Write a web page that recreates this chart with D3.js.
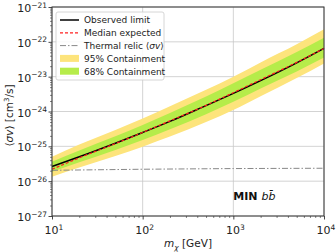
<!DOCTYPE html>
<html>
<head>
<meta charset="utf-8">
<script src="https://cdn.jsdelivr.net/npm/d3@7"></script>
<style>
  body { margin: 0; background: #fff; }
  text { font-family: "DejaVu Sans", sans-serif; }
</style>
</head>
<body>
<svg width="336" height="252"></svg>
<script>
// data
const mass = [10, 20, 50, 100, 200, 500, 1000, 2000, 5000, 10000];
const observed = [2.63e-26, 5.0e-26, 1.23e-25, 2.5e-25, 5.2e-25, 1.48e-24, 3.3e-24, 7.7e-24, 2.5e-23, 6.5e-23];
const median = [2.19e-26, 4.68e-26, 1.2e-25, 2.51e-25, 5.37e-25, 1.5e-24, 3.47e-24, 8.2e-24, 2.57e-23, 6.46e-23];
const upper95 = [5.0e-26, 1.12e-25, 2.95e-25, 6.3e-25, 1.41e-24, 4.2e-24, 1.0e-23, 2.57e-23, 8.5e-23, 2.29e-22];
const lower95 = [1.35e-26, 2.45e-26, 5.25e-26, 9.8e-26, 1.9e-25, 5.0e-25, 1.1e-24, 2.75e-24, 9.1e-24, 2.4e-23];
const upper68 = [3.6e-26, 7.6e-26, 1.95e-25, 4.1e-25, 9.1e-25, 2.7e-24, 6.5e-24, 1.58e-23, 5.1e-23, 1.32e-22];
const lower68 = [1.86e-26, 3.47e-26, 7.8e-26, 1.51e-25, 3.1e-25, 8.4e-25, 1.9e-24, 4.6e-24, 1.41e-23, 3.55e-23];
const relicMass = [10, 100, 1000, 10000];
const relic = [2.05e-26, 2.2e-26, 2.3e-26, 2.35e-26];
const xTicks = [1, 2, 3, 4];
const yTicks = [-27, -26, -25, -24, -23, -22, -21];

const margin = {top: 7, right: 12, bottom: 36, left: 52};
const width = 336 - margin.left - margin.right;
const height = 252 - margin.top - margin.bottom;

const svg = d3.select("svg");
const g = svg.append("g").attr("transform", `translate(${margin.left},${margin.top})`);

const x = d3.scaleLog().domain([10, 1e4]).range([0, width]);
const y = d3.scaleLog().domain([1e-27, 1e-21]).range([height, 0]);

// grid
g.selectAll(".gx").data(xTicks).enter().append("line")
  .attr("x1", d => x(10 ** d)).attr("x2", d => x(10 ** d))
  .attr("y1", 0).attr("y2", height)
  .attr("stroke", "#c8c8c8").attr("stroke-width", 0.8);
g.selectAll(".gy").data(yTicks).enter().append("line")
  .attr("y1", d => y(10 ** d)).attr("y2", d => y(10 ** d))
  .attr("x1", 0).attr("x2", width)
  .attr("stroke", "#c8c8c8").attr("stroke-width", 0.8);

const rows = mass.map((m, i) => ({m, obs: observed[i], med: median[i],
  u95: upper95[i], l95: lower95[i], u68: upper68[i], l68: lower68[i]}));

const area = (lo, hi) => d3.area().curve(d3.curveMonotoneX)
  .x(d => x(d.m)).y0(d => y(d[lo])).y1(d => y(d[hi]));
g.append("path").datum(rows).attr("d", area("l95", "u95")).attr("fill", "#fde47c");
g.append("path").datum(rows).attr("d", area("l68", "u68")).attr("fill", "#b6ec4a");

const line = key => d3.line().curve(d3.curveMonotoneX).x(d => x(d.m)).y(d => y(d[key]));
g.append("path").datum(rows).attr("d", line("obs"))
  .attr("fill", "none").attr("stroke", "#000").attr("stroke-width", 1.5);
g.append("path").datum(rows).attr("d", line("med"))
  .attr("fill", "none").attr("stroke", "#ff2020").attr("stroke-width", 1.2)
  .attr("stroke-dasharray", "3,2");
g.append("path").datum(relicMass.map((m, i) => ({m, v: relic[i]})))
  .attr("d", d3.line().x(d => x(d.m)).y(d => y(d.v)))
  .attr("fill", "none").attr("stroke", "#888").attr("stroke-width", 1)
  .attr("stroke-dasharray", "6,2,1.5,2");

// axes: minor ticks short, decade ticks longer
const isMajor = d => Math.abs(Math.log10(d) - Math.round(Math.log10(d))) < 1e-6;
const xa = g.append("g").attr("transform", `translate(0,${height})`)
  .call(d3.axisBottom(x).tickSize(2).tickFormat(""));
const ya = g.append("g").call(d3.axisLeft(y).tickSize(2).tickFormat(""));
[xa, ya].forEach(a => {
  a.select(".domain").remove();
  a.selectAll(".tick line").attr("stroke", "#333").attr("stroke-width", 0.6);
});
xa.selectAll(".tick").filter(isMajor).select("line").attr("y2", 3.5).attr("stroke-width", 0.9);
ya.selectAll(".tick").filter(isMajor).select("line").attr("x2", -3.5).attr("stroke-width", 0.9);

g.append("rect").attr("width", width).attr("height", height)
  .attr("fill", "none").attr("stroke", "#333").attr("stroke-width", 1);

// tick labels
g.selectAll(".xl").data(xTicks).enter().append("text")
  .attr("x", d => x(10 ** d) + 2).attr("y", height + 18)
  .attr("text-anchor", "middle").attr("font-size", 11).attr("fill", "#222")
  .each(function(d) {
    const t = d3.select(this);
    t.append("tspan").text("10");
    t.append("tspan").attr("dy", -4.5).attr("font-size", 7.5).text(d);
  });
g.selectAll(".yl").data(yTicks).enter().append("text")
  .attr("x", -5).attr("y", d => y(10 ** d) + 5)
  .attr("text-anchor", "end").attr("font-size", 11).attr("fill", "#222")
  .each(function(d) {
    const t = d3.select(this);
    t.append("tspan").text("10");
    t.append("tspan").attr("dy", -4.5).attr("font-size", 7.5).text("\u2212" + Math.abs(d));
  });

// axis labels
svg.append("text").attr("x", margin.left + width / 2).attr("y", 247)
  .attr("text-anchor", "middle").attr("font-size", 10.5).attr("fill", "#222")
  .each(function() {
    const t = d3.select(this);
    t.append("tspan").attr("font-style", "italic").text("m");
    t.append("tspan").attr("font-style", "italic").attr("font-size", 7.5).attr("dy", 2.5).text("\u03c7");
    t.append("tspan").attr("dy", -2.5).text(" [GeV]");
  });
svg.append("text").attr("transform", `translate(13,${margin.top + height / 2 + 4}) rotate(-90)`)
  .attr("text-anchor", "middle").attr("font-size", 10.5).attr("fill", "#222")
  .each(function() {
    const t = d3.select(this);
    t.append("tspan").text("\u27e8");
    t.append("tspan").attr("font-style", "italic").text("\u03c3v");
    t.append("tspan").text("\u27e9 [cm");
    t.append("tspan").attr("dy", -4).attr("font-size", 7).text("3");
    t.append("tspan").attr("dy", 4).text("/s]");
  });

// annotation
g.append("text").attr("x", x(1000)).attr("y", y(10 ** -26.55))
  .attr("font-size", 11).attr("fill", "#111")
  .each(function() {
    const t = d3.select(this);
    t.append("tspan").attr("font-weight", "bold").text("MIN ");
    t.append("tspan").attr("font-style", "italic").text("b");
    t.append("tspan").attr("font-style", "italic").text("b\u0304");
  });

// legend
const legend = g.append("g").attr("transform", "translate(4,5)");
legend.append("rect").attr("width", 108).attr("height", 68).attr("rx", 2)
  .attr("fill", "#fff").attr("fill-opacity", 0.85).attr("stroke", "#ccc").attr("stroke-width", 0.8);
const items = [
  {label: "Observed limit", type: "line", color: "#000", dash: null, w: 1.5},
  {label: "Median expected", type: "line", color: "#ff2020", dash: "3,2", w: 1.2},
  {label: "Thermal relic", type: "line", color: "#888", dash: "6,2,1.5,2", w: 1},
  {label: "95% Containment", type: "patch", color: "#fde47c"},
  {label: "68% Containment", type: "patch", color: "#b6ec4a"}
];
items.forEach((it, i) => {
  const yy = 8 + i * 12.8;
  if (it.type === "line") {
    legend.append("line").attr("x1", 4).attr("x2", 23).attr("y1", yy).attr("y2", yy)
      .attr("stroke", it.color).attr("stroke-width", it.w).attr("stroke-dasharray", it.dash);
  } else {
    legend.append("rect").attr("x", 4).attr("y", yy - 3.5).attr("width", 19).attr("height", 7)
      .attr("fill", it.color);
  }
  const t = legend.append("text").attr("x", 28).attr("y", yy + 3.3).attr("font-size", 9).attr("fill", "#222");
  if (i === 2) {
    t.append("tspan").text("Thermal relic \u27e8");
    t.append("tspan").attr("font-style", "italic").text("\u03c3v");
    t.append("tspan").text("\u27e9");
  } else {
    t.text(it.label);
  }
});
</script>
</body>
</html>
